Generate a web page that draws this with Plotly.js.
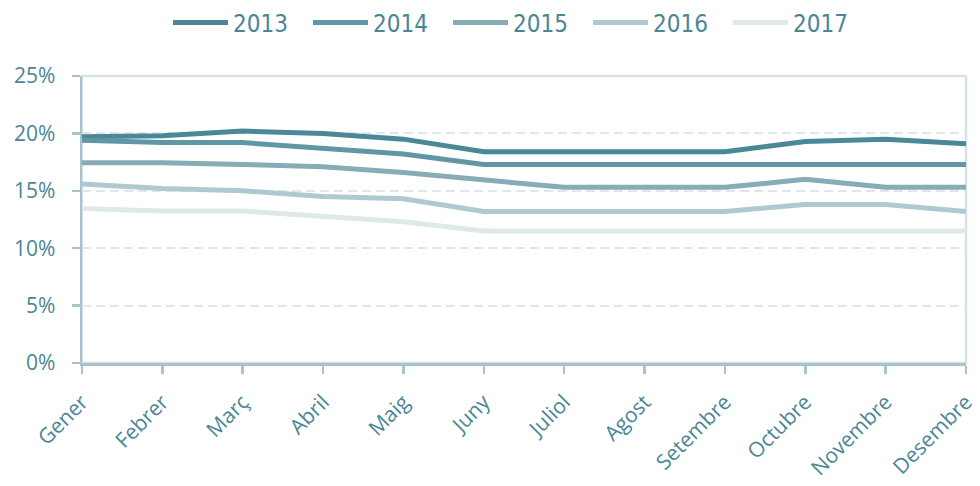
<!DOCTYPE html>
<html>
<head>
<meta charset="utf-8">
<script src="https://cdn.plot.ly/plotly-3.0.1.min.js"></script>
<style>html,body{margin:0;padding:0;background:#fff;}#chart{width:980px;height:486px;}</style>
</head>
<body>
<div id="chart"></div>
<script>
const months = ["Gener","Febrer","Març","Abril","Maig","Juny","Juliol","Agost","Setembre","Octubre","Novembre","Desembre"];
const years = ["2013","2014","2015","2016","2017"];
const v2013 = [19.7,19.8,20.2,20.0,19.5,18.4,18.4,18.4,18.4,19.3,19.5,19.1];
const v2014 = [19.4,19.2,19.2,18.7,18.2,17.3,17.3,17.3,17.3,17.3,17.3,17.3];
const v2015 = [17.45,17.45,17.3,17.1,16.6,15.9,15.3,15.3,15.3,16.0,15.3,15.3];
const v2016 = [15.6,15.2,15.0,14.5,14.3,13.2,13.2,13.2,13.2,13.8,13.8,13.2];
const v2017 = [13.45,13.25,13.25,12.8,12.3,11.5,11.5,11.5,11.5,11.5,11.5,11.5];
const yTicks = [0,5,10,15,20,25];

const series = [v2013,v2014,v2015,v2016,v2017];
const colors = ["#4a8797","#6097a5","#87acb6","#b0c9d0","#dfe8eb"];
const textColor = "#4a8696";
const axisColor = "#a8c3cb";

const traces = series.map((vals,i)=>({
  type:"scatter", mode:"lines", name:years[i],
  x: months.map((m,j)=>j), y: vals,
  line:{color:colors[i], width:5, shape:"linear"},
  hoverinfo:"skip"
}));

const layout = {
  width:980, height:486,
  margin:{l:82, r:14, t:76, b:123},
  paper_bgcolor:"#fff", plot_bgcolor:"#fff",
  showlegend:true,
  legend:{orientation:"h", xref:"container", yref:"container", x:168/980, xanchor:"left",
    y:1-23/486, yanchor:"middle", entrywidth:70, entrywidthmode:"pixels", itemwidth:55,
    font:{family:"DejaVu Sans Condensed, DejaVu Sans, sans-serif", size:24, color:textColor},
    itemclick:false, itemdoubleclick:false, traceorder:"normal"},
  xaxis:{
    range:[0,11], tickmode:"array", tickvals:months.map((m,j)=>j), ticktext:months,
    tickangle:-45, tickfont:{family:"Open Sans, sans-serif", size:21, color:textColor},
    ticklabeloverflow:"allow",
    showline:true, linecolor:axisColor, linewidth:2.5,
    ticks:"outside", ticklen:8, tickwidth:2.5, tickcolor:axisColor,
    showgrid:false, zeroline:false, fixedrange:true, ticklabelstandoff:8
  },
  yaxis:{
    range:[0,25], tickmode:"array", tickvals:yTicks, ticktext:yTicks.map(v=>v+"%"),
    tickfont:{family:"Open Sans, sans-serif", size:21, color:textColor},
    showline:true, linecolor:axisColor, linewidth:2.5,
    ticks:"outside", ticklen:8, tickwidth:2.5, tickcolor:axisColor,
    showgrid:true, gridcolor:"#dfe7ea", gridwidth:2, griddash:"9px,5px",
    zeroline:false, fixedrange:true, ticklabelstandoff:12
  },
  shapes:[{type:"rect", xref:"paper", yref:"paper", x0:0, x1:1, y0:0, y1:1,
    line:{color:"#d6e2e6", width:2.5}, layer:"below"}]
};

Plotly.newPlot("chart", traces, layout, {displayModeBar:false, staticPlot:true});
</script>
</body>
</html>
